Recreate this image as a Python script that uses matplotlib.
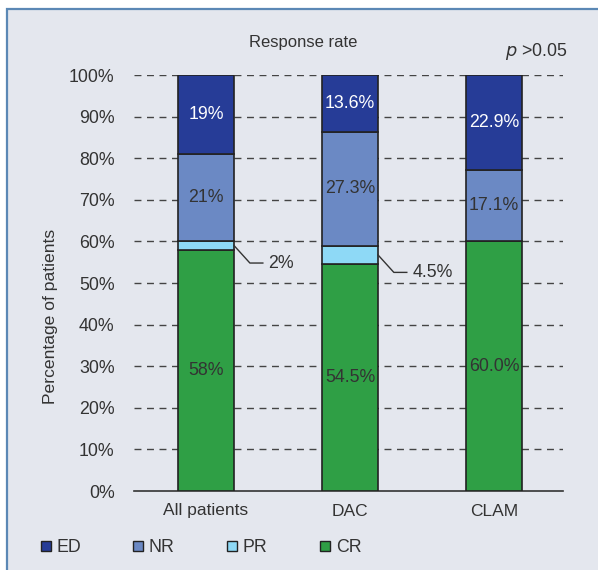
import matplotlib.pyplot as plt
from matplotlib.patches import Rectangle
import numpy as np

plt.rcParams['font.family'] = ['Liberation Sans', 'DejaVu Sans']

# data
groups = ["All patients", "DAC", "CLAM"]
categories = ["CR", "PR", "NR", "ED"]
cr = [58.0, 54.5, 60.0]
pr = [2.0, 4.5, 0.0]
nr = [21.0, 27.3, 17.1]
ed = [19.0, 13.6, 22.9]
cr_labels = ["58%", "54.5%", "60.0%"]
pr_labels = ["2%", "4.5%", ""]
nr_labels = ["21%", "27.3%", "17.1%"]
ed_labels = ["19%", "13.6%", "22.9%"]
yticks = np.arange(0, 101, 10)

colors = {"ED": "#263c97", "NR": "#6b89c4", "PR": "#8ed9f6", "CR": "#2f9f45"}
bg = "#e4e7ee"
txt = "#333333"
fs = 12.8

fig = plt.figure(figsize=(5.98, 5.70), dpi=100)
fig.patch.set_facecolor("white")
# panel background with blue frame on top/left
fig.patches.append(Rectangle((7 / 598, -0.05), 1.2, 1 - 9 / 570 + 0.05,
                             transform=fig.transFigure, facecolor=bg,
                             edgecolor="#5b88b5", linewidth=1.6, zorder=-1))

ax = fig.add_axes([134 / 598, 1 - 491 / 570, (563 - 134) / 598, (491 - 75) / 570])
ax.set_facecolor("none")
x = np.arange(len(groups))
w = 0.39

series = [("CR", cr), ("PR", pr), ("NR", nr), ("ED", ed)]
bottom = np.zeros(len(groups))
bars = {}
for name, vals in series:
    vals = np.array(vals)
    bars[name] = ax.bar(x, vals, w, bottom=bottom, color=colors[name],
                        edgecolor="#222222", linewidth=1.2, zorder=3)
    bottom = bottom + vals

# labels inside bars
for i in range(len(groups)):
    ax.text(x[i], cr[i] / 2, cr_labels[i], ha="center", va="center",
            fontsize=fs, color=txt, zorder=4)
    base = cr[i] + pr[i]
    ax.text(x[i], base + nr[i] / 2, nr_labels[i], ha="center", va="center",
            fontsize=fs, color=txt, zorder=4)
    base += nr[i]
    ax.text(x[i], base + ed[i] / 2, ed_labels[i], ha="center", va="center",
            fontsize=fs, color="white", zorder=4)

# leader lines for PR
for i in range(len(groups)):
    if pr[i] <= 0:
        continue
    y0 = cr[i] + pr[i] / 2
    x0 = x[i] + w / 2
    ax.plot([x0, x0 + 0.11, x0 + 0.2], [y0, y0 - 4.2, y0 - 4.2],
            color=txt, linewidth=1, zorder=4, clip_on=False)
    ax.text(x0 + 0.24, y0 - 4.2, pr_labels[i], ha="left", va="center",
            fontsize=fs, color=txt)

ax.set_xlim(-0.5, 2.48)
ax.set_ylim(0, 100)
ax.set_yticks(yticks)
ax.set_yticklabels([f"{t}%" for t in yticks], fontsize=fs, color=txt)
ax.set_xticks(x)
ax.set_xticklabels(groups, fontsize=fs - 0.3, color=txt)
ax.tick_params(length=0, pad=14)
ax.tick_params(axis="x", pad=9)
for t in yticks[1:]:
    ax.axhline(t, color="#444444", linestyle=(0, (5, 4)), linewidth=1, zorder=1)
for s in ["top", "right", "left"]:
    ax.spines[s].set_visible(False)
ax.spines["bottom"].set_color("#333333")
ax.spines["bottom"].set_linewidth(1.2)

ax.set_ylabel("Percentage of patients", fontsize=12.6, color=txt)
ax.yaxis.set_label_coords(-0.178, 0.42)
fig.text(303 / 598, 1 - 42 / 570, "Response rate", ha="center", va="center",
         fontsize=12, color=txt)
fig.text(567 / 598, 1 - 52 / 570, r"$\it{p}$ >0.05", ha="right", va="center",
         fontsize=fs, color=txt)

# legend
leg_x = [41, 133, 227, 320]
for lx, name in zip(leg_x, ["ED", "NR", "PR", "CR"]):
    fig.patches.append(Rectangle((lx / 598, 1 - 551 / 570), 10 / 598, 10 / 570,
                                 transform=fig.transFigure, facecolor=colors[name],
                                 edgecolor="#222222", linewidth=1))
    fig.text((lx + 16) / 598, 1 - 547 / 570, name, ha="left", va="center",
             fontsize=fs, color=txt)

fig.savefig("out.png", dpi=100, facecolor=fig.get_facecolor())
